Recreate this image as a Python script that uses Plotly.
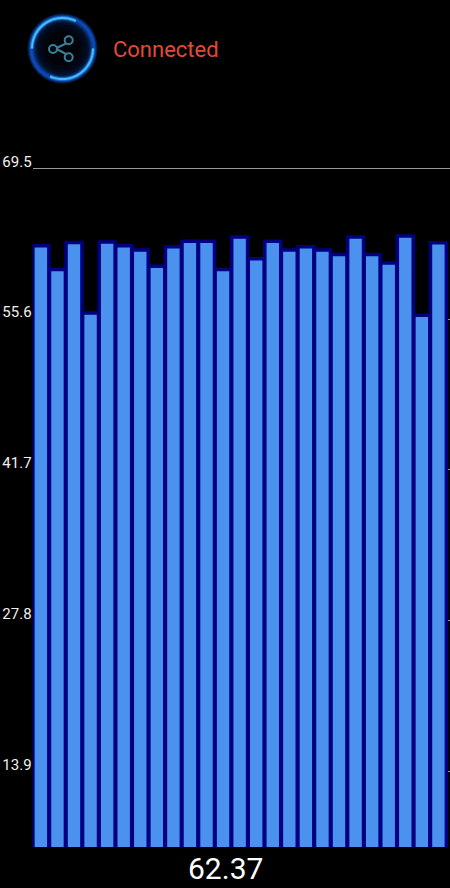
import math
import plotly.graph_objects as go

W, H = 450, 888
bar_values = [62.37, 60.17, 62.67, 56.17, 62.72, 62.37, 61.97, 60.47, 62.27, 62.77, 62.77, 60.17,
              63.17, 61.17, 62.77, 61.97, 62.27, 61.97, 61.57, 63.17, 61.57, 60.77, 63.27, 55.97, 62.64]
categories = list(range(1, len(bar_values) + 1))
tick_values = [13.9, 27.8, 41.7, 55.6, 69.5]
tick_labels = ["13.9", "27.8", "41.7", "55.6", "69.5"]
status_text = "Connected"
readout_text = "62.37"
font = "Roboto"


def px(x):
    return x / W


def py(y):
    return 1 - y / H


def arc(cx, cy, r, a0, a1, n=40):
    pts = []
    for i in range(n + 1):
        a = math.radians(a0 + (a1 - a0) * i / n)
        pts.append((cx + r * math.cos(a), cy - r * math.sin(a)))
    return "M " + " L ".join(f"{px(x):.5f},{py(y):.5f}" for x, y in pts)


def circle(cx, cy, r, **kw):
    return dict(type="circle", xref="paper", yref="paper", x0=px(cx - r), x1=px(cx + r),
                y0=py(cy + r), y1=py(cy - r), layer="above", **kw)


CX, CY = 62.5, 48.5
shapes = []
# glowing disc: edge glow fading towards a black centre
for r, col in [(35, "#041a44"), (34, "#08307a"), (33, "#0b46a8"), (32, "#0c4cb8"), (31, "#0b46ac"), (30, "#0a3a90"),
               (29, "#082c70"), (28, "#061f52"), (27, "#04163a"), (26, "#030f28"), (24, "#020a1a"),
               (21, "#010610"), (17, "#010308")]:
    shapes.append(circle(CX, CY, r, fillcolor=col, line=dict(width=0)))
# bright arcs
for a0, a1 in [(180, 64), (0, -114)]:
    shapes.append(dict(type="path", xref="paper", yref="paper", layer="above",
                       path=arc(CX, CY, 30.5, a0, a1), line=dict(color="rgba(50,170,255,0.4)", width=4)))
    shapes.append(dict(type="path", xref="paper", yref="paper", layer="above",
                       path=arc(CX, CY, 30.5, a0, a1), line=dict(color="#45bdf0", width=2)))
# share glyph
ic = "#3a8099"
for (x0, y0, x1, y1) in [(55.5, 48.5, 67, 43), (55.5, 48.5, 67, 54.5)]:
    shapes.append(dict(type="line", xref="paper", yref="paper", layer="above", x0=px(x0), y0=py(y0),
                       x1=px(x1), y1=py(y1), line=dict(color=ic, width=2)))
for (x, y) in [(53, 49), (68.7, 40.3), (68.7, 57.3)]:
    shapes.append(circle(x, y, 4, fillcolor="#02060e", line=dict(color=ic, width=2)))

TOP_PX = 100
fig = go.Figure(go.Bar(x=categories, y=bar_values, width=0.96,
                       marker=dict(color="#4a92ee", line=dict(color="#000080", width=3.5))))
fig.update_layout(
    width=W, height=H, margin=dict(l=0, r=0, t=0, b=0), paper_bgcolor="#000000", plot_bgcolor="#000000",
    showlegend=False, shapes=shapes, font=dict(family=font, color="#ffffff"),
    xaxis=dict(domain=[32.6 / W, 1], range=[0.5, 25.7], showticklabels=False, showgrid=False, zeroline=False,
               ticks=""),
    yaxis=dict(domain=[1 - 847 / H, 1 - TOP_PX / H], range=[6.95, 75.8], tickvals=tick_values, ticktext=tick_labels,
               showgrid=True, gridcolor="#999999", gridwidth=1, zeroline=False, showline=False, ticks="",
               tickfont=dict(family=font, size=15, color="#f0f0f0"), ticklabelshift=-7, ticklabelstandoff=0,
               anchor="x", side="left"),
    annotations=[
        dict(text=status_text, xref="paper", yref="paper", x=px(111), y=py(49), xanchor="left", yanchor="middle",
             showarrow=False, font=dict(family=font, size=22, color="#e04a3a")),
        dict(text=readout_text, xref="paper", yref="paper", x=px(225.5), y=py(868), xanchor="center", yanchor="middle",
             showarrow=False, font=dict(family=font, size=30, color="#ffffff")),
    ],
)
fig.write_html("out.html", config={"displayModeBar": False},
               post_script="document.body.style.margin='0';document.body.style.background='#000';")
